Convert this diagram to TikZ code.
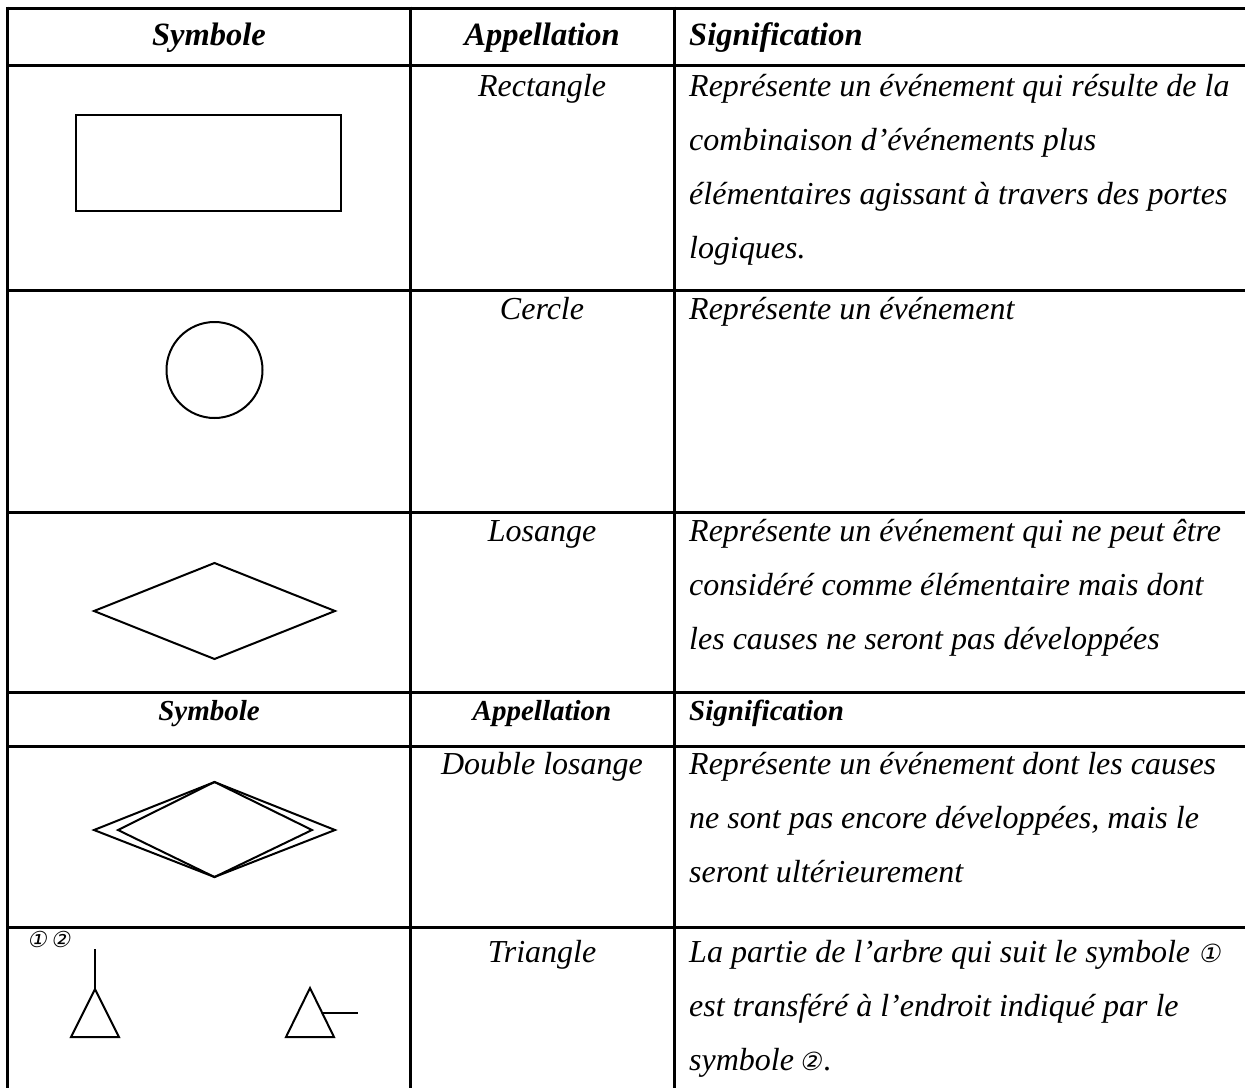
\documentclass[tikz,border=0pt]{standalone}
\usepackage{fontspec}
\setmainfont{Liberation Serif}
\newfontfamily\circfont[FakeSlant=0.2]{DejaVu Sans}
\newcommand{\circsz}{\circfont\fontsize{25}{30}\selectfont}
\newcommand{\circlab}{\circfont\fontsize{22}{26}\selectfont}
\begin{document}
\begin{tikzpicture}[x=1pt,y=-1pt,
  gridline/.style={line width=3pt},
  symb/.style={draw,line width=2pt},
  txt/.style={font=\fontsize{32}{38}\selectfont\itshape,inner sep=0pt},
  hd/.style={font=\fontsize{32.5}{38}\selectfont\bfseries\itshape,inner sep=0pt},
  hdsmall/.style={font=\fontsize{29}{34}\selectfont\bfseries\itshape,inner sep=0pt},
  circ/.style={font=\circlab,inner sep=0pt}]
\useasboundingbox (0,0) rectangle (1245,1088);
% table grid
\foreach \yy in {8,65,290,512,692,746,927}
  \draw[gridline] (6,\yy) -- (1245,\yy);
\foreach \xx in {7.5,410.5,674}
  \draw[gridline] (\xx,6.5) -- (\xx,1088);
% header 1
\node[hd,anchor=base] (h1) at (209,45) {Symbole};
\node[hd,anchor=base] (h2) at (542,45) {Appellation};
\node[hd,anchor=base west] (h3) at (689,45) {Signification};
% row 1
\node[symb,rectangle,minimum width=265pt,minimum height=96pt,inner sep=0pt] (rect) at (208.5,163) {};
\node[txt,anchor=base] (n1) at (542,96) {Rectangle};
\node[txt,anchor=base west] (s1a) at (689,96) {Représente un événement qui résulte de la};
\node[txt,anchor=base west] (s1b) at (689,150) {combinaison d’événements plus};
\node[txt,anchor=base west] (s1c) at (689,204) {élémentaires agissant à travers des portes};
\node[txt,anchor=base west] (s1d) at (689,258) {logiques.};
% row 2
\node[symb,circle,minimum size=96pt,inner sep=0pt] (circ) at (214.5,370) {};
\node[txt,anchor=base] (n2) at (542,319) {Cercle};
\node[txt,anchor=base west] (s2a) at (689,319) {Représente un événement};
% row 3
\coordinate (l3w) at (94,611); \coordinate (l3n) at (214.5,563);
\coordinate (l3e) at (335,611); \coordinate (l3s) at (214.5,659);
\draw[symb] (l3w) -- (l3n) -- (l3e) -- (l3s) -- cycle;
\node[txt,anchor=base] (n3) at (542,541) {Losange};
\node[txt,anchor=base west] (s3a) at (689,541) {Représente un événement qui ne peut être};
\node[txt,anchor=base west] (s3b) at (689,595) {considéré comme élémentaire mais dont};
\node[txt,anchor=base west] (s3c) at (689,649) {les causes ne seront pas développées};
% header 2
\node[hdsmall,anchor=base] (g1) at (209,720) {Symbole};
\node[hdsmall,anchor=base] (g2) at (542,720) {Appellation};
\node[hdsmall,anchor=base west] (g3) at (689,720) {Signification};
% row 4
\coordinate (d4w) at (94,830); \coordinate (d4n) at (214.5,782);
\coordinate (d4e) at (335,830); \coordinate (d4s) at (214.5,877);
\coordinate (i4w) at (118,830); \coordinate (i4e) at (312,830);
\draw[symb] (d4w) -- (d4n) -- (d4e) -- (d4s) -- cycle;
\draw[symb] (i4w) -- (d4n) -- (i4e) -- (d4s) -- cycle;
\node[txt,anchor=base] (n4) at (542,774) {Double losange};
\node[txt,anchor=base west] (s4a) at (689,774) {Représente un événement dont les causes};
\node[txt,anchor=base west] (s4b) at (689,828) {ne sont pas encore développées, mais le};
\node[txt,anchor=base west] (s4c) at (689,882) {seront ultérieurement};
% row 5
\node[circ,anchor=base west] (lab) at (27,947) {①\,②};
\coordinate (t1a) at (95,989); \coordinate (t1l) at (71,1037); \coordinate (t1r) at (119,1037);
\coordinate (t1top) at (95,949);
\draw[symb] (t1a) -- (t1l) -- (t1r) -- cycle;
\draw[symb] (t1a) -- (t1top);
\coordinate (t2a) at (310,988); \coordinate (t2l) at (286,1037); \coordinate (t2r) at (334,1037);
\coordinate (t2s) at (322.5,1012.5); \coordinate (t2e) at (358,1012.5);
\draw[symb] (t2a) -- (t2l) -- (t2r) -- cycle;
\draw[symb] (t2s) -- (t2e);
\node[txt,anchor=base] (n5) at (542,962) {Triangle};
\node[txt,anchor=base west] (s5a) at (689,962) {La partie de l’arbre qui suit le symbole {\circsz ①}};
\node[txt,anchor=base west] (s5b) at (689,1016) {est transféré à l’endroit indiqué par le};
\node[txt,anchor=base west] (s5c) at (689,1070) {symbole\,{\circsz ②}\kern2pt.};
\end{tikzpicture}
\end{document}
